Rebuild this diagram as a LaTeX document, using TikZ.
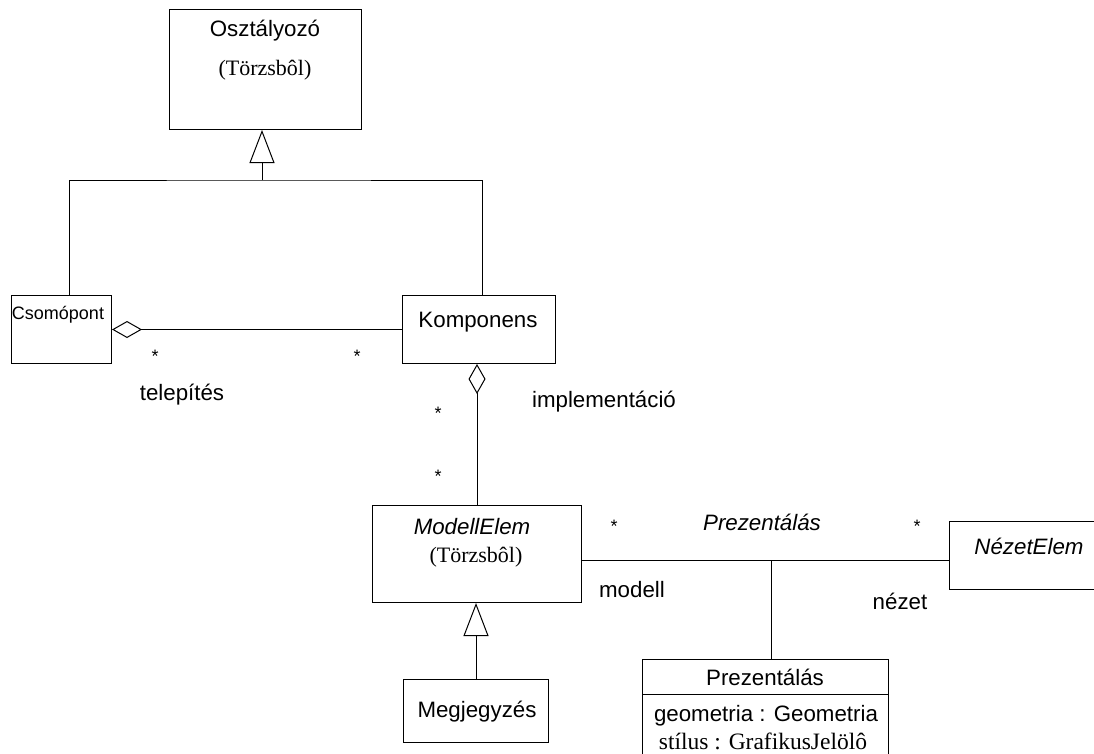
\documentclass[tikz,border=0pt]{standalone}
\usepackage{fontspec}
\setmainfont{Liberation Serif}
\setsansfont{Liberation Sans}
\usetikzlibrary{arrows.meta,calc}
\begin{document}
\begin{tikzpicture}[x=1pt,y=-1pt,line width=1pt,
  classbox/.style={draw,rectangle,inner sep=0pt,anchor=north west},
  sf/.style={font=\sffamily\fontsize{22.3}{25}\selectfont},
  sfi/.style={font=\sffamily\itshape\fontsize{22.3}{25}\selectfont},
  rm/.style={font=\rmfamily\fontsize{22}{25}\selectfont},
  gen/.style={-{Triangle[open,length=33,width=25,line width=1pt]}},
  agg/.style={{Diamond[open,length=30,width=17,line width=1pt]}-},
  mult/.style={font=\sffamily\fontsize{18}{20}\selectfont}]
\useasboundingbox (0,0) rectangle (1094,753);
\clip (0,0) rectangle (1094,753);

% class boxes
\node[classbox,minimum width=192,minimum height=120] (osz) at (169,9) {};
\node[classbox,minimum width=100,minimum height=68] (csomo) at (11,295) {};
\node[classbox,minimum width=153,minimum height=68] (komp) at (402,295) {};
\node[classbox,minimum width=209,minimum height=97] (modell) at (372,505) {};
\node[classbox,minimum width=160,minimum height=68] (nezet) at (949,521) {};
\node[classbox,minimum width=145,minimum height=63] (megj) at (403,679) {};
\node[classbox,minimum width=246,minimum height=110] (prez) at (642,659) {};
\draw (prez.west |- 0,694) -- (prez.east |- 0,694);

% class names and notes
\node[sf] (oszname) at (265,31) {Osztályozó};
\node[rm] (osznote) at (265,70) {(Törzsbôl)};
\node[font=\sffamily\fontsize{18}{20}\selectfont] (csomoname) at (58,315) {Csomópont};
\node[sf] (kompname) at (478,322) {Komponens};
\node[sfi] (modellname) at (472,527) {ModellElem};
\node[rm] (modellnote) at (476,557) {(Törzsbôl)};
\node[sfi] (nezetname) at (1029,546) {NézetElem};
\node[sf] (megjname) at (477,712) {Megjegyzés};
\node[sf] (prezname) at (765,677) {Prezentálás};
\node[sf] (prezattr1) at (766,716) {geometria : Geometria};
\node[font=\rmfamily\fontsize{23.5}{25}\selectfont] (prezattr2) at (763,741) {stílus : GrafikusJelölô};

% generalization to Osztályozó
\coordinate (gj) at (262,180);
\coordinate (csomotop) at ($(csomo.north)+(8,0)$);
\coordinate (komptop) at ($(komp.north)+(3.5,0)$);
\draw[gen] (gj) -- (gj |- osz.south);
\draw (csomotop) |- (gj) -| (komptop);

% telepítés aggregation
\draw[agg] (csomo.east) -- (komp.west);
\node[mult] (m1) at (155,356) {*};
\node[mult] (m2) at (357,356) {*};
\node[sf] (telep) at (182,395) {telepítés};

% implementáció aggregation
\draw[agg] (komp.south -| modell.north) -- (modell.north);
\node[mult] (m3) at (438,413) {*};
\node[mult] (m4) at (438,476) {*};
\node[sf] (impl) at (604,402) {implementáció};

% Prezentálás association
\coordinate (assoc) at (771,560);
\draw (assoc -| modell.east) -- (assoc -| nezet.west);
\draw (assoc) -- (assoc |- prez.north);
\node[mult] (m5) at (614,526) {*};
\node[mult] (m6) at (917,526) {*};
\node[sfi] (assocname) at (762,522) {Prezentálás};
\node[sf] (rmodell) at (632,590) {modell};
\node[sf] (rnezet) at (900,601) {nézet};

% generalization Megjegyzés -> ModellElem
\draw[gen] (megj.north) -- (megj.north |- modell.south);
\end{tikzpicture}
\end{document}
